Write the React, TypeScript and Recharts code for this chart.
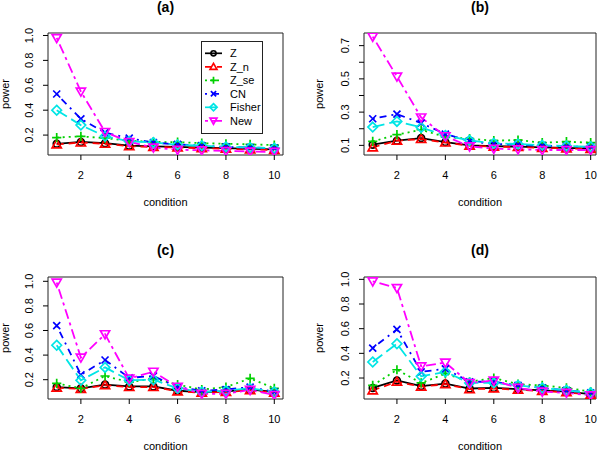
import React from 'react';
import { LineChart, Line, XAxis, YAxis, ReferenceArea, Legend } from 'recharts';

const FONT = '"Liberation Sans", Arial, Helvetica, sans-serif';

// ---------- data ----------
const conditions = [1, 2, 3, 4, 5, 6, 7, 8, 9, 10];
const xTicks = [2, 4, 6, 8, 10];
const seriesNames = ['Z', 'Z_n', 'Z_se', 'CN', 'Fisher', 'New'];

// panel (a)
const a_Z = [0.13, 0.145, 0.135, 0.115, 0.11, 0.105, 0.1, 0.095, 0.09, 0.085];
const a_Zn = [0.125, 0.14, 0.13, 0.11, 0.105, 0.1, 0.095, 0.09, 0.085, 0.08];
const a_Zse = [0.18, 0.19, 0.175, 0.155, 0.145, 0.143, 0.135, 0.13, 0.125, 0.12];
const a_CN = [0.53, 0.33, 0.22, 0.175, 0.14, 0.125, 0.115, 0.105, 0.1, 0.095];
const a_Fisher = [0.4, 0.28, 0.19, 0.15, 0.14, 0.122, 0.115, 0.105, 0.1, 0.095];
const a_New = [0.98, 0.55, 0.225, 0.145, 0.1, 0.082, 0.078, 0.072, 0.068, 0.065];

// panel (b)
const b_Z = [0.104, 0.128, 0.144, 0.12, 0.1, 0.095, 0.092, 0.088, 0.085, 0.08];
const b_Zn = [0.088, 0.128, 0.138, 0.117, 0.098, 0.092, 0.09, 0.085, 0.082, 0.078];
const b_Zse = [0.124, 0.164, 0.194, 0.15, 0.14, 0.128, 0.132, 0.116, 0.122, 0.116];
const b_CN = [0.26, 0.288, 0.234, 0.168, 0.125, 0.108, 0.104, 0.098, 0.094, 0.09];
const b_Fisher = [0.21, 0.244, 0.208, 0.16, 0.13, 0.112, 0.108, 0.1, 0.096, 0.092];
const b_New = [0.754, 0.514, 0.268, 0.155, 0.094, 0.08, 0.076, 0.072, 0.072, 0.072];

// panel (c)
const c_Z = [0.14, 0.13, 0.16, 0.145, 0.145, 0.11, 0.1, 0.105, 0.12, 0.1];
const c_Zn = [0.135, 0.125, 0.155, 0.14, 0.14, 0.105, 0.095, 0.1, 0.115, 0.095];
const c_Zse = [0.17, 0.13, 0.23, 0.18, 0.21, 0.16, 0.12, 0.14, 0.21, 0.13];
const c_CN = [0.64, 0.24, 0.36, 0.215, 0.23, 0.14, 0.11, 0.12, 0.14, 0.1];
const c_Fisher = [0.48, 0.195, 0.3, 0.195, 0.2, 0.13, 0.1, 0.11, 0.13, 0.1];
const c_New = [0.99, 0.38, 0.57, 0.21, 0.265, 0.143, 0.085, 0.085, 0.117, 0.076];

// panel (d)
const d_Z = [0.12, 0.18, 0.135, 0.155, 0.115, 0.12, 0.11, 0.1, 0.09, 0.07];
const d_Zn = [0.1, 0.17, 0.13, 0.15, 0.11, 0.115, 0.105, 0.095, 0.085, 0.065];
const d_Zse = [0.14, 0.267, 0.16, 0.235, 0.17, 0.2, 0.15, 0.14, 0.12, 0.09];
const d_CN = [0.443, 0.595, 0.25, 0.275, 0.17, 0.17, 0.14, 0.12, 0.1, 0.08];
const d_Fisher = [0.33, 0.478, 0.214, 0.25, 0.16, 0.16, 0.14, 0.12, 0.1, 0.08];
const d_New = [0.984, 0.93, 0.295, 0.325, 0.16, 0.18, 0.12, 0.09, 0.08, 0.06];

const yTicksA = [0.2, 0.4, 0.6, 0.8, 1.0];
const yTicksB = [0.1, 0.2, 0.3, 0.4, 0.5, 0.6, 0.7];
const yLabelsB = [0.1, 0.3, 0.5, 0.7];

// ---------- styles ----------
const seriesColors = ['#000000', '#FF0000', '#00D000', '#0000FF', '#00E5E5', '#FF00FF'];
const seriesDashes = [undefined, '7 5', '2 4', '2 5 7 5', '12 5', '3 4 10 4'];
const seriesShapes = ['circle', 'tri', 'plus', 'cross', 'diamond', 'tridown'];

function Marker({ cx, cy, shape, color, s = 1 }: any) {
  if (cx == null || cy == null) return null;
  const common = { fill: 'none', stroke: color, strokeWidth: 1.7 };
  switch (shape) {
    case 'circle':
      return <circle cx={cx} cy={cy} r={3.4 * s} {...common} />;
    case 'tri': {
      const a = 4.6 * s;
      return <polygon points={`${cx},${cy - a} ${cx - a},${cy + a * 0.75} ${cx + a},${cy + a * 0.75}`} {...common} />;
    }
    case 'tridown': {
      const a = 4.6 * s;
      return <polygon points={`${cx},${cy + a} ${cx - a},${cy - a * 0.75} ${cx + a},${cy - a * 0.75}`} {...common} />;
    }
    case 'plus': {
      const a = 4.6 * s;
      return <path d={`M${cx - a},${cy}H${cx + a}M${cx},${cy - a}V${cy + a}`} {...common} />;
    }
    case 'cross': {
      const a = 3.5 * s;
      return <path d={`M${cx - a},${cy - a}L${cx + a},${cy + a}M${cx - a},${cy + a}L${cx + a},${cy - a}`} {...common} />;
    }
    case 'diamond': {
      const a = 4.8 * s;
      return <polygon points={`${cx},${cy - a} ${cx + a},${cy} ${cx},${cy + a} ${cx - a},${cy}`} {...common} />;
    }
    default:
      return null;
  }
}

const makeYTick = (labelled: number[]) => (props: any) => {
  const { x, y, payload } = props;
  const v = payload.value as number;
  const show = labelled.some((l) => Math.abs(l - v) < 1e-9);
  return (
    <g>
      <line x1={x - 5} x2={x} y1={y} y2={y} stroke="#000" strokeWidth={1} />
      {show && (
        <text
          transform={`translate(${x - 15},${y}) rotate(-90)`}
          textAnchor="middle"
          fontSize={11}
          fontFamily={FONT}
          fill="#000"
        >
          {v.toFixed(1)}
        </text>
      )}
    </g>
  );
};

const XTick = (props: any) => {
  const { x, y, payload } = props;
  return (
    <g>
      <line x1={x} x2={x} y1={y} y2={y + 5} stroke="#000" strokeWidth={1} />
      <text x={x} y={y + 24} textAnchor="middle" fontSize={11} fontFamily={FONT} fill="#000">
        {payload.value}
      </text>
    </g>
  );
};

const LegendBox = (props: any) => {
  const payload = ([...(props.payload || [])] as any[]).sort(
    (p1, p2) => seriesNames.indexOf(p1.value) - seriesNames.indexOf(p2.value)
  );
  return (
    <svg width={62} height={93} style={{ overflow: 'visible', display: 'block' }}>
      <rect x={0.5} y={0.5} width={61} height={92} fill="#fff" stroke="#222" strokeWidth={1} />
      {payload.map((entry, i) => {
        const idx = seriesNames.indexOf(entry.value);
        const y = 12.3 + i * 13.5;
        return (
          <g key={entry.value}>
            <line x1={4} x2={21} y1={y} y2={y} stroke={entry.color} strokeWidth={1.7} strokeDasharray={seriesDashes[idx]} />
            <Marker cx={12.5} cy={y} shape={seriesShapes[idx]} color={entry.color} s={0.75} />
            <text x={29} y={y + 4} fontSize={11} fontFamily={FONT} fill="#000">
              {entry.value}
            </text>
          </g>
        );
      })}
    </svg>
  );
};

type PanelProps = {
  title: string;
  series: number[][];
  left: number;
  top: number;
  plotLeft: number;
  plotRight: number;
  plotTop: number;
  plotBottom: number;
  xDomain: [number, number];
  yDomain: [number, number];
  yTicks: number[];
  yLabels: number[];
  titleY: number;
  powerX: number;
  legend?: boolean;
};

function Panel(p: PanelProps) {
  const W = 300;
  const H = 225;
  const data = conditions.map((c, i) => {
    const row: any = { condition: c };
    seriesNames.forEach((n, k) => {
      row[n] = p.series[k][i];
    });
    return row;
  });
  const xAxisH = 30;
  const margin = { top: p.plotTop, right: W - p.plotRight, left: 0, bottom: H - p.plotBottom - xAxisH };
  const cx = (p.plotLeft + p.plotRight) / 2;
  const cy = (p.plotTop + p.plotBottom) / 2;
  return (
    <div style={{ position: 'absolute', left: p.left, top: p.top, width: W, height: H }}>
      <LineChart width={W} height={H} data={data} margin={margin}>
        <XAxis
          dataKey="condition"
          type="number"
          domain={p.xDomain}
          ticks={xTicks}
          interval={0}
          allowDataOverflow
          axisLine={false}
          tickLine={false}
          tickSize={0}
          tickMargin={0}
          height={xAxisH}
          tick={<XTick />}
          label={{
            content: () => (
              <text x={cx} y={p.plotBottom + 50.5} textAnchor="middle" fontSize={11} fontFamily={FONT} fill="#000">
                condition
              </text>
            ),
          }}
        />
        <YAxis
          type="number"
          domain={p.yDomain}
          ticks={p.yTicks}
          interval={0}
          allowDataOverflow
          axisLine={false}
          tickLine={false}
          tickSize={0}
          tickMargin={0}
          width={p.plotLeft}
          tick={makeYTick(p.yLabels)}
          label={{
            content: () => (
              <text
                transform={`translate(${p.powerX},${cy}) rotate(-90)`}
                textAnchor="middle"
                fontSize={11}
                fontFamily={FONT}
                fill="#000"
              >
                power
              </text>
            ),
          }}
        />
        {seriesNames.map((n, k) => (
          <Line
            key={n}
            type="linear"
            dataKey={n}
            name={n}
            stroke={seriesColors[k]}
            strokeWidth={1.8}
            strokeDasharray={seriesDashes[k]}
            isAnimationActive={false}
            activeDot={false}
            dot={(dp: any) => (
              <Marker key={`${n}-${dp.index}`} cx={dp.cx} cy={dp.cy} shape={seriesShapes[k]} color={seriesColors[k]} />
            )}
          />
        ))}
        <ReferenceArea
          x1={p.xDomain[0]}
          x2={p.xDomain[1]}
          y1={p.yDomain[0]}
          y2={p.yDomain[1]}
          fill="none"
          fillOpacity={0}
          stroke="#222"
          strokeWidth={1}
          label={{
            content: () => (
              <text x={cx} y={p.titleY} textAnchor="middle" fontSize={14} fontWeight="bold" fontFamily={FONT} fill="#000">
                {p.title}
              </text>
            ),
          }}
        />
        {p.legend && (
          <Legend
            layout="vertical"
            align="center"
            verticalAlign="middle"
            wrapperStyle={{ position: 'absolute', left: 201, top: 41, width: 62, height: 93 }}
            content={<LegendBox />}
          />
        )}
      </LineChart>
    </div>
  );
}

export default function App() {
  return (
    <div style={{ position: 'fixed', left: 0, top: 0, width: 600, height: 450, background: '#fff' }}>
      <Panel
        title="(a)"
        series={[a_Z, a_Zn, a_Zse, a_CN, a_Fisher, a_New]}
        left={0}
        top={0}
        plotLeft={48}
        plotRight={283}
        plotTop={33}
        plotBottom={155}
        xDomain={[0.64, 10.36]}
        yDomain={[0.04, 1.02]}
        yTicks={yTicksA}
        yLabels={yTicksA}
        titleY={12}
        powerX={9}
        legend
      />
      <Panel
        title="(b)"
        series={[b_Z, b_Zn, b_Zse, b_CN, b_Fisher, b_New]}
        left={300}
        top={0}
        plotLeft={64}
        plotRight={296}
        plotTop={33}
        plotBottom={155}
        xDomain={[0.64, 10.22]}
        yDomain={[0.042, 0.776]}
        yTicks={yTicksB}
        yLabels={yLabelsB}
        titleY={11.5}
        powerX={22.5}
      />
      <Panel
        title="(c)"
        series={[c_Z, c_Zn, c_Zse, c_CN, c_Fisher, c_New]}
        left={0}
        top={225}
        plotLeft={48}
        plotRight={283}
        plotTop={52}
        plotBottom={174}
        xDomain={[0.64, 10.36]}
        yDomain={[0.043, 1.035]}
        yTicks={yTicksA}
        yLabels={yTicksA}
        titleY={29.5}
        powerX={9}
      />
      <Panel
        title="(d)"
        series={[d_Z, d_Zn, d_Zse, d_CN, d_Fisher, d_New]}
        left={300}
        top={225}
        plotLeft={64}
        plotRight={296}
        plotTop={52}
        plotBottom={174}
        xDomain={[0.64, 10.22]}
        yDomain={[0.03, 1.019]}
        yTicks={yTicksA}
        yLabels={yTicksA}
        titleY={29.5}
        powerX={22.5}
      />
    </div>
  );
}
